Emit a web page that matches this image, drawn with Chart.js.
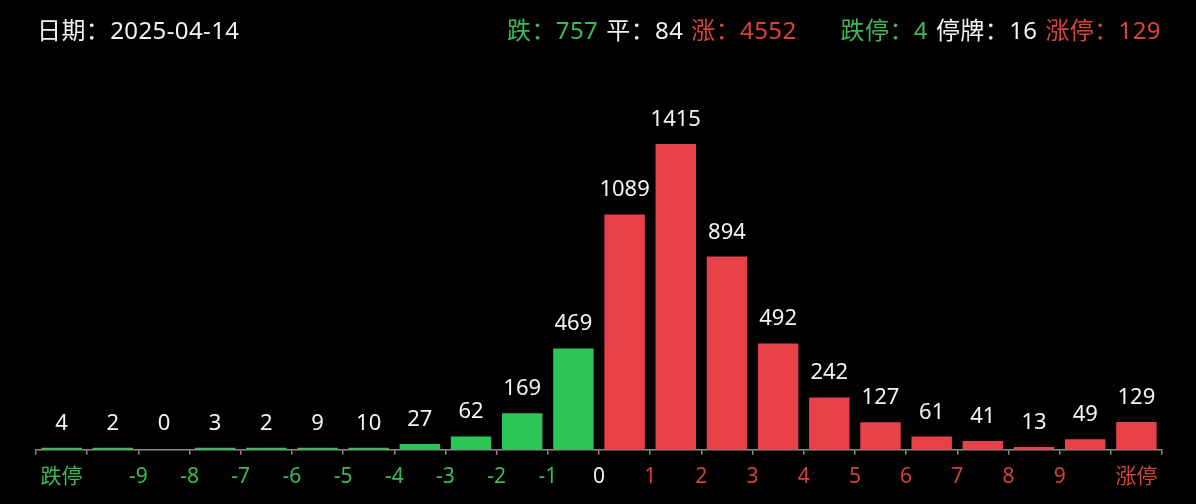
<!DOCTYPE html>
<html>
<head>
<meta charset="utf-8">
<script src="https://cdn.jsdelivr.net/npm/chart.js@4"></script>
<style>
  html, body { margin: 0; padding: 0; background: #000; }
  body { width: 1196px; height: 504px; position: relative; overflow: hidden;
         font-family: 'Noto Sans', 'Noto Sans CJK SC', sans-serif; }
  #head { position: absolute; top: 10px; left: 37px; right: 35px; height: 36px;
          display: flex; align-items: center; font-size: 24px; color: #f2f2f2; letter-spacing: 0.4px; }
  #head .date { flex: 1; }
  #head span.item { margin-left: 8px; }
  #head span.gap { margin-left: 44px; }
  .g { color: #3dba55; }
  .w { color: #f2f2f2; }
  .r { color: #d8433c; }
  #wrap { position: absolute; left: 0; top: 0; width: 1196px; height: 504px; }
</style>
</head>
<body>
<div id="wrap"><canvas id="distChart"></canvas></div>
<div id="head">
  <span class="date">日期：2025-04-14</span>
  <span class="item g">跌：757</span>
  <span class="item w">平：84</span>
  <span class="item r">涨：4552</span>
  <span class="item gap g">跌停：4</span>
  <span class="item w">停牌：16</span>
  <span class="item r">涨停：129</span>
</div>
<script>
// buckets, left to right: 跌停, -10..-9, ... , 9..10, 涨停
const buckets = ['跌停', '-10~-9', '-9~-8', '-8~-7', '-7~-6', '-6~-5', '-5~-4', '-4~-3', '-3~-2', '-2~-1', '-1~0',
                 '0~1', '1~2', '2~3', '3~4', '4~5', '5~6', '6~7', '7~8', '8~9', '9~10', '涨停'];
const counts = [4, 2, 0, 3, 2, 9, 10, 27, 62, 169, 469,
                1089, 1415, 894, 492, 242, 127, 61, 41, 13, 49, 129];
const axisLabels = ['跌停', '-9', '-8', '-7', '-6', '-5', '-4', '-3', '-2', '-1', '0',
                    '1', '2', '3', '4', '5', '6', '7', '8', '9', '涨停'];
const upFrom = 11; // first red bucket

const GREEN = '#2bc558';
const RED = '#e8414a';
const FONT = "'Noto Sans', 'Noto Sans CJK SC', sans-serif";

// where each axis label sits on the linear x2 scale (bucket index units)
function labelPos(i) {
  if (i === 0) return 0;
  if (i === axisLabels.length - 1) return buckets.length - 1;
  return i + 0.5;
}

function labelColor(i) {
  if (i < 10) return '#3dba55';
  if (i === 10) return '#f2f2f2';
  return '#d0423b';
}

const valueLabels = {
  id: 'valueLabels',
  afterDatasetsDraw(chart) {
    const ctx = chart.ctx;
    const meta = chart.getDatasetMeta(0);
    ctx.save();
    ctx.font = '22px ' + FONT;
    ctx.fillStyle = '#f4f4f4';
    ctx.textAlign = 'center';
    ctx.textBaseline = 'alphabetic';
    meta.data.forEach((bar, i) => {
      ctx.fillText(String(counts[i]), bar.x, Math.min(bar.y, chart.scales.y.getPixelForValue(0)) - 18);
    });
    ctx.restore();
  }
};

Chart.register(valueLabels);

const ctx = document.getElementById('distChart').getContext('2d');
new Chart(ctx, {
  type: 'bar',
  data: {
    labels: buckets,
    datasets: [{
      data: counts,
      backgroundColor: (c) => counts[c.dataIndex] === 0 ? 'rgba(0,0,0,0)' : (c.dataIndex >= upFrom ? RED : GREEN),
      barPercentage: 0.79,
      categoryPercentage: 1,
      minBarLength: 2,
      borderWidth: 0,
    }],
  },
  options: {
    responsive: true,
    maintainAspectRatio: false,
    animation: false,
    layout: { padding: { left: 36, right: 34, top: 104, bottom: 12 } },
    plugins: { legend: { display: false }, tooltip: { enabled: false }, title: { display: false } },
    scales: {
      y: { display: false, min: 0, max: 1600 },
      x: {
        type: 'category',
        offset: true,
        grid: { offset: true, drawOnChartArea: false, drawTicks: true, tickLength: 5, color: '#8a8a8a', lineWidth: 1.5 },
        border: { display: true, color: '#8a8a8a', width: 1.5 },
        ticks: { display: false },
      },
      x2: {
        type: 'linear',
        position: 'bottom',
        offset: false,
        min: -0.5,
        max: buckets.length - 0.5,
        grid: { display: false },
        border: { display: false },
        afterBuildTicks: (scale) => {
          scale.ticks = axisLabels.map((_, i) => ({ value: labelPos(i) }));
        },
        ticks: {
          autoSkip: false,
          maxRotation: 0,
          padding: 2,
          font: { size: 21, family: FONT },
          color: (c) => labelColor(c.index),
          callback: (value, index) => axisLabels[index],
        },
      },
    },
  },
});
</script>
</body>
</html>
